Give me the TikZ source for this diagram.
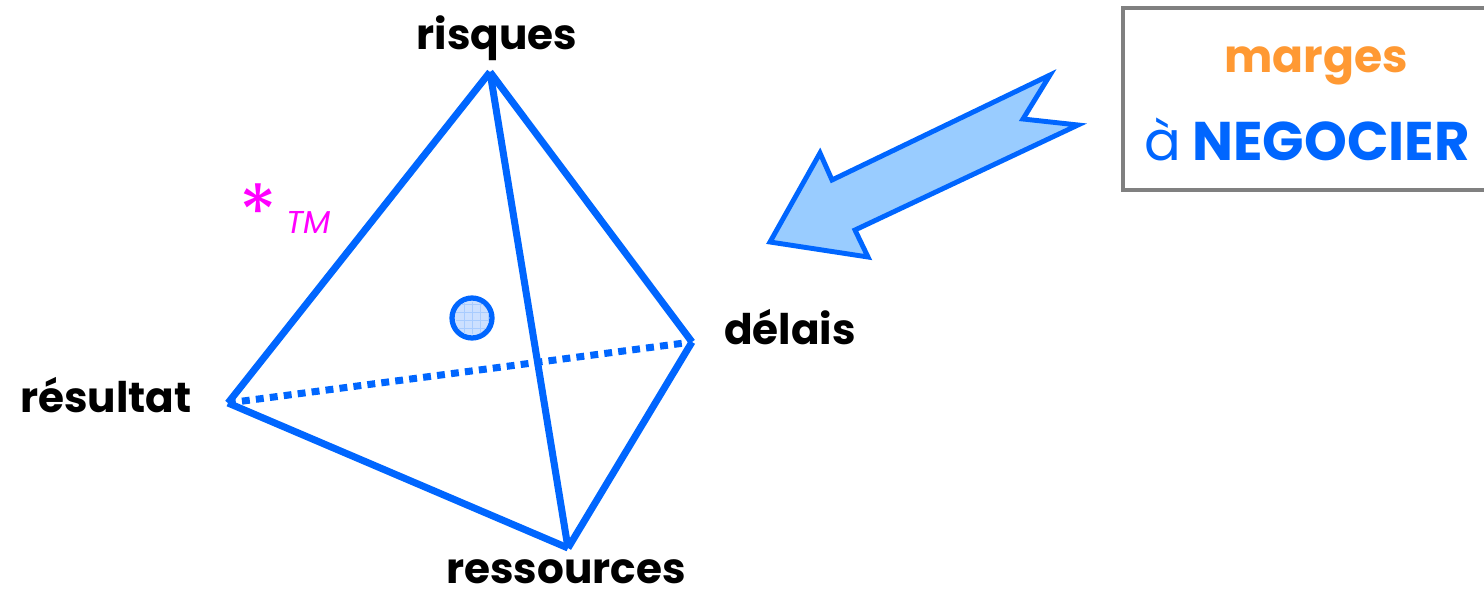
\documentclass[tikz,border=0pt]{standalone}
\usepackage{fontspec}
\setmainfont{Poppins}
\usetikzlibrary{positioning}
\definecolor{tetblue}{HTML}{0066FF}
\definecolor{arrfill}{HTML}{99CCFF}
\definecolor{dotfill}{HTML}{CCE0FF}
\definecolor{gridblue}{HTML}{A8CCFF}
\definecolor{margeorange}{HTML}{FF9933}
\definecolor{tmpink}{HTML}{FF00FF}

\begin{document}
\begin{tikzpicture}[x=0.02cm, y=-0.02cm,
    edge/.style={tetblue, line width=4pt, line join=miter},
    hidden/.style={tetblue, line width=4pt, dash pattern=on 4.5pt off 3.5pt},
    lbl/.style={font=\fontsize{24}{28}\selectfont\bfseries, inner sep=0pt, anchor=base},
    dot/.style={circle, draw=tetblue, line width=3pt, fill=dotfill, minimum size=0.8cm, inner sep=0pt},
    bigarrow/.style={draw=tetblue, line width=2.8pt, fill=arrfill, line join=miter},
    boxline/.style={draw=gray, line width=2.8pt},
    boxtxt/.style={inner sep=0pt, anchor=base}
]
\useasboundingbox (0,0) rectangle (1484,595);

% corners of the tetrahedron
\coordinate (risq) at (490,72);
\coordinate (resu) at (228,403);
\coordinate (dela) at (692,342);
\coordinate (ress) at (568,548);

\draw[hidden] (resu) -- (dela);
\draw[edge] (risq) -- (resu);
\draw[edge] (risq) -- (dela);
\draw[edge] (risq) -- (ress);
\draw[edge] (resu) -- (ress);
\draw[edge] (dela) -- (ress);

\node[lbl] (lrisq) at (497,50) {risques};
\node[lbl] (lresu) at (106,412) {résultat};
\node[lbl] (ldela) at (790,344) {délais};
\node[lbl] (lress) at (566,583) {ressources};

% point inside
\node[dot] (pt) at (472,318) {};
\begin{scope}
  \clip (pt.center) circle (17.5);
  \draw[gridblue, line width=0.4pt, step=0.16cm] (pt.south west) grid (pt.north east);
\end{scope}

% mark
\node[text=tmpink, font=\fontsize{44}{44}\selectfont\mdseries, inner sep=0pt] (star) at (258,212) {*};
\node[text=tmpink, font=\fontsize{18}{20}\selectfont\itshape, inner sep=0pt] (tm) at (309,222) {TM};

% arrow
\draw[bigarrow] (770,242) -- (820,153) -- (832,180) -- (1050,75) -- (1023,119)
  -- (1078,125) -- (855,230) -- (868,257) -- cycle;

% box
\draw[boxline] (1123,8) rectangle (1500,190);
\node[boxtxt, text=margeorange, font=\fontsize{26}{30}\selectfont\bfseries] (marg) at (1316,72) {marges};
\node[boxtxt, text=tetblue, font=\fontsize{31}{34}\selectfont\bfseries] (nego) at (1307,160) {{\mdseries à} NEGOCIER};
\end{tikzpicture}
\end{document}
